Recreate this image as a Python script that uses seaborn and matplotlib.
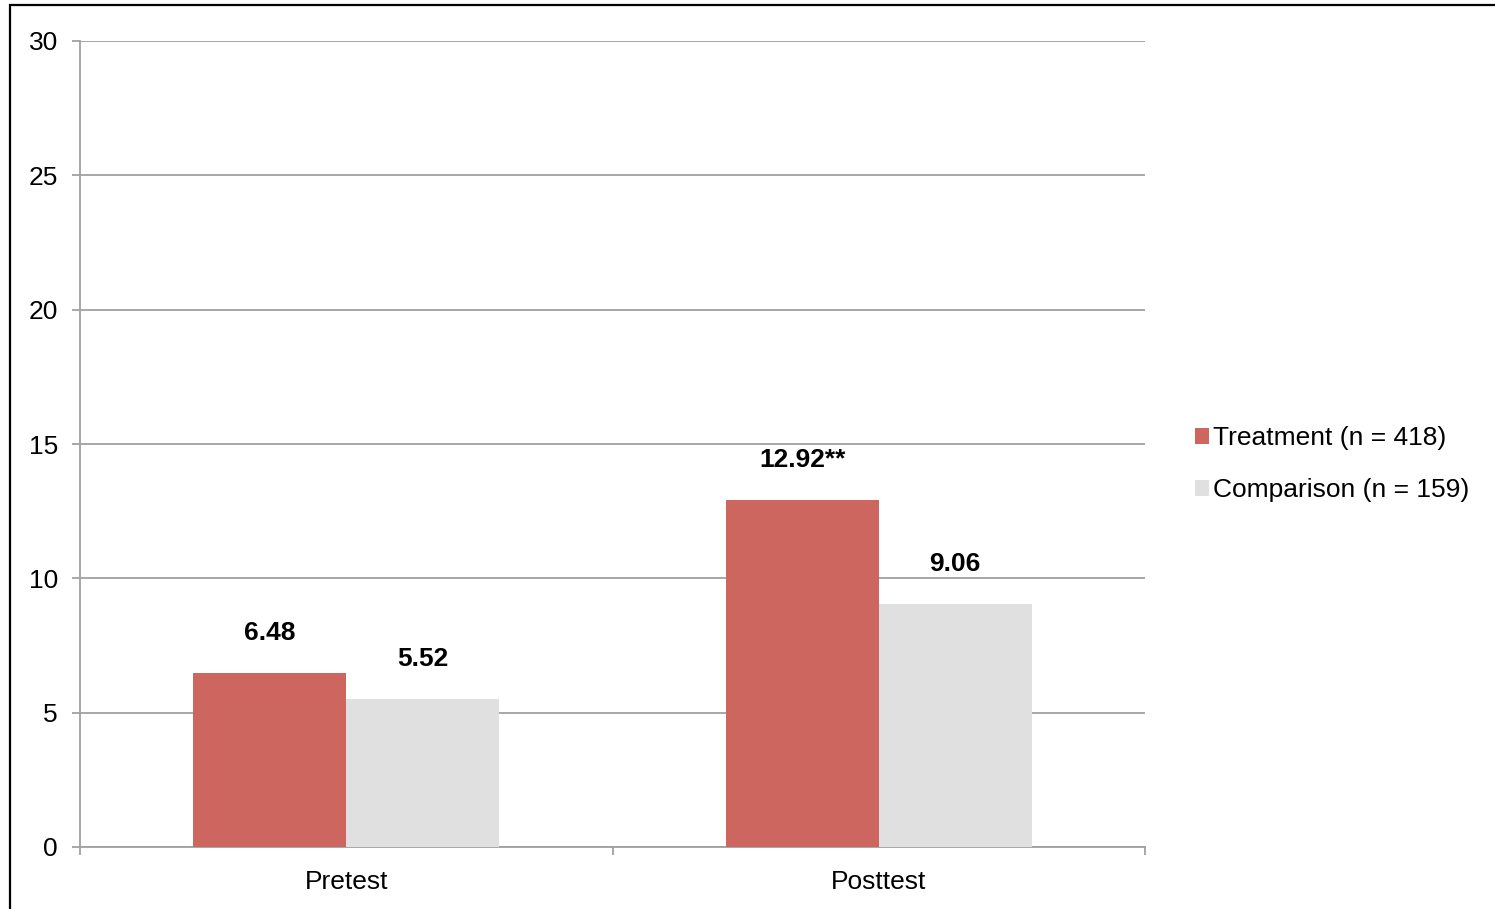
import matplotlib
matplotlib.use("Agg")
import matplotlib.pyplot as plt
import seaborn as sns
import pandas as pd
from matplotlib.patches import Rectangle
from matplotlib.ticker import FixedLocator

categories = ["Pretest", "Posttest"]
series_names = ["Treatment (n = 418)", "Comparison (n = 159)"]
treatment = [6.48, 12.92]
comparison = [5.52, 9.06]
value_labels_treatment = ["6.48", "12.92**"]
value_labels_comparison = ["5.52", "9.06"]
yticks = [0, 5, 10, 15, 20, 25, 30]

colors = ["#CD665F", "#E0E0E0"]

sns.set_theme(style="white")
plt.rcParams["font.family"] = ["Liberation Sans", "DejaVu Sans"]
plt.rcParams["text.color"] = "black"

df = pd.DataFrame({
    "Test": categories * 2,
    "Group": [series_names[0]] * 2 + [series_names[1]] * 2,
    "Score": treatment + comparison,
})

fig = plt.figure(figsize=(14.95, 9.09), dpi=100)
ax = fig.add_axes([80/1495, 1-847/909, (1145-80)/1495, (847-41)/909])

sns.barplot(data=df, x="Test", y="Score", hue="Group", order=categories,
            hue_order=series_names, palette=colors, width=0.575,
            saturation=1, ax=ax, zorder=3, linewidth=0)

ax.set_xlim(-0.5, 1.5)
ax.set_ylim(0, 30)
ax.set_yticks(yticks)
ax.set_xlabel("")
ax.set_ylabel("")
ax.grid(axis="y", color="#A0A0A0", linewidth=1.3, zorder=0)
ax.set_axisbelow(True)
for s in ["top", "right"]:
    ax.spines[s].set_visible(False)
for s in ["left", "bottom"]:
    ax.spines[s].set_color("#A0A0A0")
    ax.spines[s].set_linewidth(1.3)

ax.tick_params(axis="y", length=6, width=1.3, color="#A0A0A0", pad=10,
               labelsize=19, labelcolor="black", left=True)
ax.tick_params(axis="x", which="major", length=0, pad=16.5, labelsize=19,
               labelcolor="black")
ax.xaxis.set_minor_locator(FixedLocator([-0.5, 0.5, 1.5]))
ax.tick_params(axis="x", which="minor", length=6, width=1.3, color="#A0A0A0",
               bottom=True)

for cont, labels in zip(ax.containers, [value_labels_treatment, value_labels_comparison]):
    ax.bar_label(cont, labels=labels, padding=20, fontsize=19,
                 fontweight="bold", color="black")

handles, labels = ax.get_legend_handles_labels()
leg = ax.legend(handles, labels, loc="center left", bbox_to_anchor=(1.037, 0.475),
                frameon=False, fontsize=19, handlelength=0.55, handleheight=0.55,
                handletextpad=0.15, labelspacing=1.05, borderaxespad=0)
for t in leg.get_texts():
    t.set_color("black")

fig.patches.append(Rectangle((10/1495, -0.05), 1.2, 0.05 + (909-5)/909,
                             transform=fig.transFigure, fill=False,
                             edgecolor="black", linewidth=1.6))

fig.savefig("out.png", dpi=100)
